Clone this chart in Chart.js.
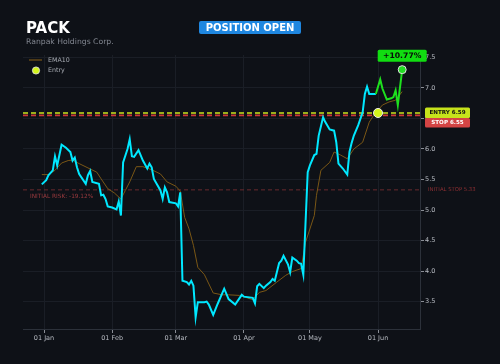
<!DOCTYPE html>
<html>
<head>
<meta charset="utf-8">
<script src="https://cdn.jsdelivr.net/npm/chart.js@4.4.1/dist/chart.umd.min.js"></script>
<style>
  html, body { margin: 0; padding: 0; background: #0e1117; }
  #wrap { position: relative; width: 500px; height: 364px; overflow: hidden; background: #0e1117; }
  canvas { position: absolute; left: 0; top: 0; }
  #title { position: absolute; left: 26px; top: 19px; font: bold 15px "DejaVu Sans", sans-serif; color: #ffffff; }
  #subtitle { position: absolute; left: 26px; top: 37px; font: 7.7px "DejaVu Sans", sans-serif; color: #80858f; }
  #status { position: absolute; left: 199px; top: 21px; width: 102px; height: 13px; background: #1f87e0; border-radius: 2px;
            font: bold 10px "DejaVu Sans", sans-serif; color: #ffffff; text-align: center; line-height: 13px; }
</style>
</head>
<body>
<div id="wrap">
  <canvas id="c" width="500" height="364"></canvas>
  <div id="title">PACK</div>
  <div id="subtitle">Ranpak Holdings Corp.</div>
  <div id="status">POSITION OPEN</div>
</div>
<script>
// ---------- data ----------
const priceDates = [
  "2019-12-31","2020-01-02","2020-01-03","2020-01-05","2020-01-06","2020-01-07","2020-01-09","2020-01-11",
  "2020-01-13","2020-01-14","2020-01-15","2020-01-16","2020-01-17","2020-01-20","2020-01-21","2020-01-22",
  "2020-01-23","2020-01-26","2020-01-27","2020-01-28","2020-01-29","2020-01-30","2020-02-01","2020-02-03",
  "2020-02-04","2020-02-05","2020-02-06","2020-02-08","2020-02-09","2020-02-10","2020-02-11","2020-02-13",
  "2020-02-15","2020-02-17","2020-02-18","2020-02-19","2020-02-20","2020-02-23","2020-02-24","2020-02-25",
  "2020-02-26","2020-02-27","2020-03-01","2020-03-02","2020-03-03","2020-03-04","2020-03-06","2020-03-07",
  "2020-03-08","2020-03-09","2020-03-10","2020-03-11","2020-03-14","2020-03-15","2020-03-16","2020-03-18",
  "2020-03-20","2020-03-23","2020-03-25","2020-03-28","2020-03-31","2020-04-01","2020-04-05","2020-04-06",
  "2020-04-07","2020-04-08","2020-04-10","2020-04-11","2020-04-13","2020-04-14","2020-04-15","2020-04-17",
  "2020-04-18","2020-04-19","2020-04-21","2020-04-22","2020-04-23","2020-04-25","2020-04-26","2020-04-27",
  "2020-04-28","2020-04-30","2020-05-01","2020-05-03","2020-05-04","2020-05-05","2020-05-07","2020-05-08",
  "2020-05-10","2020-05-12","2020-05-13","2020-05-14","2020-05-16","2020-05-18","2020-05-19","2020-05-20",
  "2020-05-21","2020-05-23","2020-05-25","2020-05-26","2020-05-27","2020-05-28","2020-05-31","2020-06-02",
  "2020-06-03","2020-06-05","2020-06-07","2020-06-08","2020-06-09","2020-06-10","2020-06-12"
];
const priceValues = [
  5.42,5.49,5.57,5.65,5.88,5.73,6.07,6.02,
  5.95,5.81,5.86,5.70,5.59,5.43,5.57,5.64,
  5.46,5.43,5.24,5.25,5.18,5.06,5.04,5.01,
  5.14,4.91,5.78,6.00,6.16,5.88,5.87,5.98,
  5.81,5.68,5.76,5.70,5.51,5.32,5.18,5.37,
  5.29,5.13,5.11,5.06,5.29,3.84,3.82,3.78,
  3.84,3.76,3.24,3.49,3.49,3.50,3.45,3.28,
  3.46,3.71,3.54,3.45,3.61,3.58,3.56,3.47,
  3.75,3.79,3.72,3.76,3.82,3.87,3.84,4.13,
  4.17,4.25,4.11,3.98,4.22,4.17,4.13,4.12,
  3.94,5.62,5.73,5.90,5.92,6.22,6.52,6.44,
  6.32,6.30,6.11,5.76,5.68,5.58,5.95,6.10,
  6.22,6.39,6.60,6.90,7.02,6.90,6.90,7.14,
  6.99,6.81,6.83,6.85,6.96,6.72,7.30
];
const emaDates = [
  "2019-12-31","2020-01-03","2020-01-06","2020-01-09","2020-01-12","2020-01-14","2020-01-17","2020-01-21",
  "2020-01-25","2020-01-27","2020-01-30","2020-02-02","2020-02-05","2020-02-07","2020-02-09","2020-02-12",
  "2020-02-15","2020-02-19","2020-02-23","2020-02-26","2020-03-01","2020-03-03","2020-03-05","2020-03-07",
  "2020-03-09","2020-03-11","2020-03-14","2020-03-18","2020-03-22","2020-03-25","2020-03-30","2020-04-05",
  "2020-04-08","2020-04-11","2020-04-16","2020-04-20","2020-04-23","2020-04-27","2020-04-29","2020-05-03",
  "2020-05-04","2020-05-06","2020-05-10","2020-05-12","2020-05-15","2020-05-18","2020-05-21","2020-05-25",
  "2020-05-28","2020-05-30","2020-06-03","2020-06-06","2020-06-09","2020-06-12"
];
const emaValues = [
  5.58,5.58,5.65,5.77,5.81,5.82,5.76,5.69,
  5.62,5.51,5.35,5.28,5.18,5.32,5.46,5.71,
  5.71,5.66,5.59,5.46,5.39,5.31,4.88,4.69,
  4.42,4.06,3.94,3.64,3.61,3.61,3.60,3.53,
  3.65,3.68,3.82,3.93,3.99,4.04,4.47,4.91,
  5.24,5.65,5.78,5.95,5.90,5.84,6.00,6.11,
  6.44,6.55,6.72,6.77,6.80,6.94
];
const entryDate = "2020-06-01";
const entryPrice = 6.59;
const stopPrice = 6.55;
const initialStop = 5.33;
const greenFrom = "2020-05-31";
const monthTickDates = ["2020-01-01","2020-02-01","2020-03-01","2020-04-01","2020-05-01","2020-06-01"];
const monthTickLabels = ["01 Jan","01 Feb","01 Mar","01 Apr","01 May","01 Jun"];
const yTickValues = [3.5,4.0,4.5,5.0,5.5,6.0,6.5,7.0,7.5];

// ---------- helpers ----------
const BASE = Date.UTC(2020,0,1);
function dayNum(s){ const p=s.split("-").map(Number); return (Date.UTC(p[0],p[1]-1,p[2])-BASE)/86400000; }
const X_MIN = -9.56, X_MAX = 171.1, Y_MIN = 3.05, Y_MAX = 7.54;

const cyanPts = [], greenPts = [];
priceDates.forEach((d,i)=>{
  const pt = {x: dayNum(d), y: priceValues[i]};
  if (d <= greenFrom) cyanPts.push(pt);
  if (d >= greenFrom) greenPts.push(pt);
});
const emaPts = emaDates.map((d,i)=>({x: dayNum(d), y: emaValues[i]}));
const lastIdx = priceValues.length-1;
const lastPt = {x: dayNum(priceDates[lastIdx]), y: priceValues[lastIdx]};
const gainPct = (priceValues[lastIdx]/entryPrice - 1)*100;
const riskPct = (initialStop/entryPrice - 1)*100;

function hline(v){ return [{x:X_MIN,y:v},{x:X_MAX,y:v}]; }
const FONT = '"DejaVu Sans", sans-serif';

function roundRect(ctx,x,y,w,h,r){
  ctx.beginPath();
  ctx.moveTo(x+r,y); ctx.lineTo(x+w-r,y); ctx.quadraticCurveTo(x+w,y,x+w,y+r);
  ctx.lineTo(x+w,y+h-r); ctx.quadraticCurveTo(x+w,y+h,x+w-r,y+h);
  ctx.lineTo(x+r,y+h); ctx.quadraticCurveTo(x,y+h,x,y+h-r);
  ctx.lineTo(x,y+r); ctx.quadraticCurveTo(x,y,x+r,y); ctx.closePath();
}

const overlay = {
  id: 'overlay',
  afterDraw(chart){
    const ctx = chart.ctx, xs = chart.scales.x, ys = chart.scales.y, ca = chart.chartArea;
    ctx.save();
    // legend
    ctx.strokeStyle = '#7a5716'; ctx.lineWidth = 1.2;
    ctx.beginPath(); ctx.moveTo(29, 60); ctx.lineTo(42, 60); ctx.stroke();
    ctx.beginPath(); ctx.arc(36, 70.5, 3.6, 0, Math.PI*2);
    ctx.fillStyle = '#d4f51c'; ctx.fill(); ctx.strokeStyle = '#e8e8e8'; ctx.lineWidth = 0.8; ctx.stroke();
    ctx.fillStyle = '#a9adb5'; ctx.font = '6.3px ' + FONT; ctx.textBaseline = 'middle'; ctx.textAlign = 'left';
    ctx.fillText('EMA10', 48, 60);
    ctx.fillText('Entry', 48, 70.5);

    // initial stop / risk labels
    const yIS = ys.getPixelForValue(initialStop);
    ctx.fillStyle = '#8e2f33'; ctx.font = '5.3px ' + FONT;
    ctx.fillText('INITIAL STOP ' + initialStop.toFixed(2), ca.right + 8, yIS);
    ctx.fillStyle = '#9a3a3e'; ctx.font = '5.8px ' + FONT;
    ctx.fillText('INITIAL RISK: ' + riskPct.toFixed(2) + '%', 30, yIS + 6.5);

    // entry / stop badges
    const yE = ys.getPixelForValue(entryPrice);
    const bx = ca.right + 5, bw = 45;
    roundRect(ctx, bx, yE - 5.5, bw, 10.5, 1.5); ctx.fillStyle = '#c7e31b'; ctx.fill();
    ctx.fillStyle = '#111111'; ctx.font = 'bold 5.6px ' + FONT; ctx.textAlign = 'center';
    ctx.fillText('ENTRY ' + entryPrice.toFixed(2), bx + bw/2, yE);
    roundRect(ctx, bx, yE + 5, bw, 9.5, 1.5); ctx.fillStyle = '#d44444'; ctx.fill();
    ctx.fillStyle = '#ffffff';
    ctx.fillText('STOP ' + stopPrice.toFixed(2), bx + bw/2, yE + 9.8);

    // gain badge
    const px = xs.getPixelForValue(lastPt.x), py = ys.getPixelForValue(lastPt.y);
    roundRect(ctx, px - 24.5, py - 20, 49, 12, 1.5); ctx.fillStyle = '#11dd11'; ctx.fill();
    ctx.fillStyle = '#0a0a0a'; ctx.font = 'bold 7.7px ' + FONT;
    ctx.fillText('+' + gainPct.toFixed(2) + '%', px, py - 14);
    ctx.restore();
  }
};

new Chart(document.getElementById('c'), {
  type: 'line',
  data: {
    datasets: [
      { label: 'Entry line', data: hline(entryPrice), borderColor: '#c9e31c', borderWidth: 1.6, borderDash: [5,3], pointRadius: 0, order: 5 },
      { label: 'Stop line', data: hline(stopPrice), borderColor: '#cc3838', borderWidth: 1.6, borderDash: [5,3], pointRadius: 0, order: 6 },
      { label: 'Initial stop', data: hline(initialStop), borderColor: '#6a2a2e', borderWidth: 1, borderDash: [4,3], pointRadius: 0, order: 7 },
      { label: 'EMA10', data: emaPts, borderColor: '#7a5716', borderWidth: 1, pointRadius: 0, tension: 0, order: 4 },
      { label: 'Price', data: cyanPts, borderColor: '#00e8ff', borderWidth: 2, pointRadius: 0, tension: 0, order: 3 },
      { label: 'Price (open)', data: greenPts, borderColor: '#1ee01e', borderWidth: 2, pointRadius: 0, tension: 0, order: 2 },
      { label: 'Entry', data: [{x: dayNum(entryDate), y: entryPrice}], showLine: false, pointRadius: 4.5,
        pointBackgroundColor: '#d4f51c', pointBorderColor: '#f0f0f0', pointBorderWidth: 1, order: 1 },
      { label: 'Last', data: [lastPt], showLine: false, pointRadius: 4,
        pointBackgroundColor: '#22dd22', pointBorderColor: '#e0e0e0', pointBorderWidth: 1, order: 0 }
    ]
  },
  options: {
    responsive: false,
    devicePixelRatio: 1,
    animation: false,
    layout: { padding: { left: 23, top: 55, right: 0, bottom: 0 } },
    plugins: { legend: { display: false }, tooltip: { enabled: false } },
    scales: {
      x: {
        type: 'linear', min: X_MIN, max: X_MAX,
        afterBuildTicks(s){ s.ticks = monthTickDates.map(d => ({value: dayNum(d)})); },
        afterFit(s){ s.height = 35; },
        ticks: {
          color: '#b7bbc2', font: { family: 'DejaVu Sans', size: 6.5 }, padding: 1, maxRotation: 0, autoSkip: false,
          callback(v){ const i = monthTickDates.findIndex(d => dayNum(d) === v); return i >= 0 ? monthTickLabels[i] : ''; }
        },
        grid: { color: '#1a1e26', tickColor: '#8a8e96', tickLength: 4, lineWidth: 1 },
        border: { color: '#2c313a', width: 1 }
      },
      y: {
        type: 'linear', position: 'right', min: Y_MIN, max: Y_MAX,
        afterBuildTicks(s){ s.ticks = yTickValues.map(v => ({value: v})); },
        afterFit(s){ s.width = 80; },
        ticks: { color: '#b7bbc2', font: { family: 'DejaVu Sans', size: 6.5 }, padding: 1,
          callback(v){ return Number(v).toFixed(1); } },
        grid: { color: '#1a1e26', tickColor: '#8a8e96', tickLength: 4, lineWidth: 1 },
        border: { color: '#2c313a', width: 1 }
      }
    }
  },
  plugins: [overlay]
});
</script>
</body>
</html>
